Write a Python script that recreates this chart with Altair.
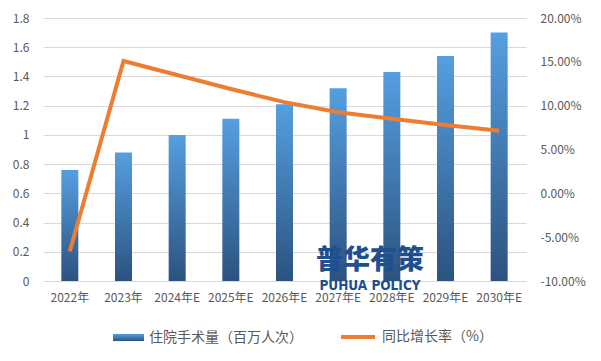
import altair as alt
import pandas as pd

years = ["2022年", "2023年", "2024年E", "2025年E", "2026年E", "2027年E", "2028年E", "2029年E", "2030年E"]
volume = [0.76, 0.88, 1.00, 1.11, 1.21, 1.32, 1.43, 1.54, 1.70]
growth = [-0.066, 0.151, 0.135, 0.119, 0.104, 0.0925, 0.085, 0.078, 0.0715]
bar_label = "住院手术量（百万人次）"
line_label = "同比增长率（%）"
left_ticks = [0, 0.2, 0.4, 0.6, 0.8, 1.0, 1.2, 1.4, 1.6, 1.8]
right_ticks = [-0.10, -0.05, 0.0, 0.05, 0.10, 0.15, 0.20]

df = pd.DataFrame({"year": years, "vol": volume, "rate": growth})
df["s1"] = bar_label
df["s2"] = line_label

FONT = "Noto Sans CJK SC"
GRAY = "#595959"

grad = alt.LinearGradient(
    gradient="linear",
    stops=[alt.GradientStop(offset=0, color="#559fe0"),
           alt.GradientStop(offset=1, color="#2c527f")],
    x1=0, x2=0, y1=0, y2=1,
)

xenc = alt.X("year:N", sort=years, title=None,
             axis=alt.Axis(labelAngle=0, ticks=False, domainColor="#d9d9d9",
                           labelPadding=11, labelFontSize=12))

bars = alt.Chart(df).mark_bar(fill=grad, size=17).encode(
    x=xenc,
    y=alt.Y("vol:Q", title=None,
            scale=alt.Scale(domain=[0, 1.8], nice=False),
            axis=alt.Axis(values=left_ticks, format="~g", domain=False, ticks=False,
                          grid=True, labelPadding=14, labelFontSize=12)),
    opacity=alt.Opacity("s1:N", scale=alt.Scale(domain=[bar_label], range=[1]),
                        legend=alt.Legend(title=None, orient="none", legendX=70, legendY=304,
                                          symbolType="M-1,-0.23H1V0.23H-1Z",
                                          symbolSize=961, symbolFillColor="#3d74ad",
                                          symbolStrokeWidth=0, labelOffset=5,
                                          labelFontSize=14, labelColor=GRAY, labelFont=FONT)),
)

line = alt.Chart(df).mark_line(strokeWidth=4).encode(
    x=xenc,
    y=alt.Y("rate:Q", title=None,
            scale=alt.Scale(domain=[-0.10, 0.20], nice=False),
            axis=alt.Axis(orient="right", values=right_ticks, domain=False, ticks=False,
                          grid=False, labelPadding=14, labelFontSize=12,
                          labelExpr="replace(format(datum.value, '.2%'), '\u2212', '-')")),
    stroke=alt.Stroke("s2:N", scale=alt.Scale(domain=[line_label], range=["#ed7d31"]),
                      legend=alt.Legend(title=None, orient="none", legendX=296, legendY=300,
                                        symbolType="stroke",
                                        symbolStrokeWidth=4, symbolSize=1156, labelOffset=5,
                                        labelFontSize=14, labelColor=GRAY, labelFont=FONT)),
)

wm1 = alt.Chart(pd.DataFrame({"t": ["普华有策"]})).mark_text(
    font=FONT, fontSize=27, fontWeight=900, color="#1e4f8f",
    align="center", baseline="middle").encode(
    x=alt.value(327), y=alt.value(243), text="t:N")
wm2 = alt.Chart(pd.DataFrame({"t": ["PUHUA POLICY"]})).mark_text(
    font="DejaVu Sans Condensed", fontSize=13.5, fontWeight="bold", color="#1e4f8f",
    align="center", baseline="middle").encode(
    x=alt.value(327), y=alt.value(268), text="t:N")

chart = alt.layer(bars, line, wm1, wm2).resolve_scale(y="independent").properties(
    width=483, height=263,
    autosize=alt.AutoSizeParams(type="none"),
    padding={"left": 35, "top": 10, "right": 67, "bottom": 72},
).configure_view(stroke=None).configure_axis(
    labelFont=FONT, labelColor=GRAY, gridColor="#d9d9d9"
)

chart.save("out.html", embed_options={"renderer": "svg", "actions": False})
